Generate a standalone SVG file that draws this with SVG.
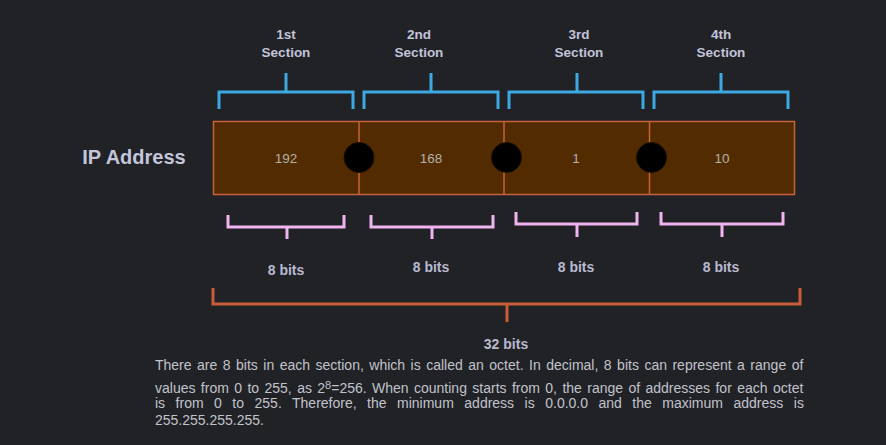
<svg xmlns="http://www.w3.org/2000/svg" width="886" height="445" viewBox="0 0 886 445">
<style>
.lbl{font-family:"Liberation Sans",Arial,sans-serif;font-weight:bold;font-size:13.5px;fill:#c3c3da;text-anchor:middle}
.bits{font-family:"Liberation Sans",Arial,sans-serif;font-weight:bold;font-size:14px;fill:#b9b9d0;text-anchor:middle}
.num{font-family:"Liberation Sans",Arial,sans-serif;font-size:13.5px;fill:#b4b0aa;text-anchor:middle}
.para{font-family:"Liberation Sans",Arial,sans-serif;font-size:14px;fill:#c2c2cc}
.blue{fill:none;stroke:#3ea8e2;stroke-width:3}
.pink{fill:none;stroke:#f0b4f0;stroke-width:3}
.orange{fill:none;stroke:#c85c38;stroke-width:3}
.dot{fill:#000000;stroke:#1a0d00;stroke-width:1}
</style>
<rect x="0" y="0" width="886" height="445" fill="#202226"/>

<g id="ip-label">
<text x="134" y="164" style="font-family:'Liberation Sans',Arial,sans-serif;font-weight:bold;font-size:20px;fill:#c5c5dc" text-anchor="middle">IP Address</text>
</g>

<g id="address-box">
<rect x="213.5" y="121.5" width="581" height="73" fill="#522c00" stroke="#c8603c" stroke-width="1.5"/>
<line x1="359" y1="121.5" x2="359" y2="194.5" stroke="#c8603c" stroke-width="1.5"/>
<line x1="504" y1="121.5" x2="504" y2="194.5" stroke="#c8603c" stroke-width="1.5"/>
<line x1="649.5" y1="121.5" x2="649.5" y2="194.5" stroke="#c8603c" stroke-width="1.5"/>
</g>

<g id="octet-1"><text class="num" x="286" y="163">192</text></g>
<g id="octet-2"><text class="num" x="431" y="163">168</text></g>
<g id="octet-3"><text class="num" x="576" y="163">1</text></g>
<g id="octet-4"><text class="num" x="722" y="163">10</text></g>

<g id="dot-1"><circle class="dot" cx="359" cy="157.5" r="15"/></g>
<g id="dot-2"><circle class="dot" cx="506.5" cy="157.5" r="15"/></g>
<g id="dot-3"><circle class="dot" cx="651.5" cy="157.5" r="15"/></g>

<g id="section-1"><text class="lbl" x="286" y="39">1st</text><text class="lbl" x="286" y="57">Section</text></g>
<g id="section-2"><text class="lbl" x="419" y="39">2nd</text><text class="lbl" x="419" y="57">Section</text></g>
<g id="section-3"><text class="lbl" x="579" y="39">3rd</text><text class="lbl" x="579" y="57">Section</text></g>
<g id="section-4"><text class="lbl" x="721" y="39">4th</text><text class="lbl" x="721" y="57">Section</text></g>

<g id="connectors">
<path class="blue" d="M219,109 V92 H353 V109 M286,92 V73"/>
<path class="blue" d="M364,109 V92 H498 V109 M431,92 V73"/>
<path class="blue" d="M509,109 V92 H643 V109 M577,92 V73"/>
<path class="blue" d="M654,109 V92 H788 V109 M721,92 V73"/>
<path class="pink" d="M228,215 V227 H344 V215 M287,227 V239"/>
<path class="pink" d="M371,215 V227 H493 V215 M432,227 V239"/>
<path class="pink" d="M516,212 V224 H637 V212 M577,224 V237"/>
<path class="pink" d="M661,212 V224 H783 V212 M722,224 V237"/>
<path class="orange" d="M213,288 V304 H800 V288 M507,304 V322"/>
</g>

<g id="bits-1"><text class="bits" x="286" y="275">8 bits</text></g>
<g id="bits-2"><text class="bits" x="431" y="272">8 bits</text></g>
<g id="bits-3"><text class="bits" x="576" y="272">8 bits</text></g>
<g id="bits-4"><text class="bits" x="721" y="272">8 bits</text></g>
<g id="bits-total"><text class="bits" x="506" y="349">32 bits</text></g>

<g id="description">
<text class="para" x="155" y="370" word-spacing="1.6">There are 8 bits in each section, which is called an octet. In decimal, 8 bits can represent a range of</text>
<text class="para" x="155" y="392.5" word-spacing="1.5">values from 0 to 255, as 2<tspan dy="-4" style="font-size:11px">8</tspan><tspan dy="4">=256. When counting starts from 0, the range of addresses for each octet</tspan></text>
<text class="para" x="155" y="408" word-spacing="6.6">is from 0 to 255. Therefore, the minimum address is 0.0.0.0 and the maximum address is</text>
<text class="para" x="155" y="425">255.255.255.255.</text>
</g>
</svg>
